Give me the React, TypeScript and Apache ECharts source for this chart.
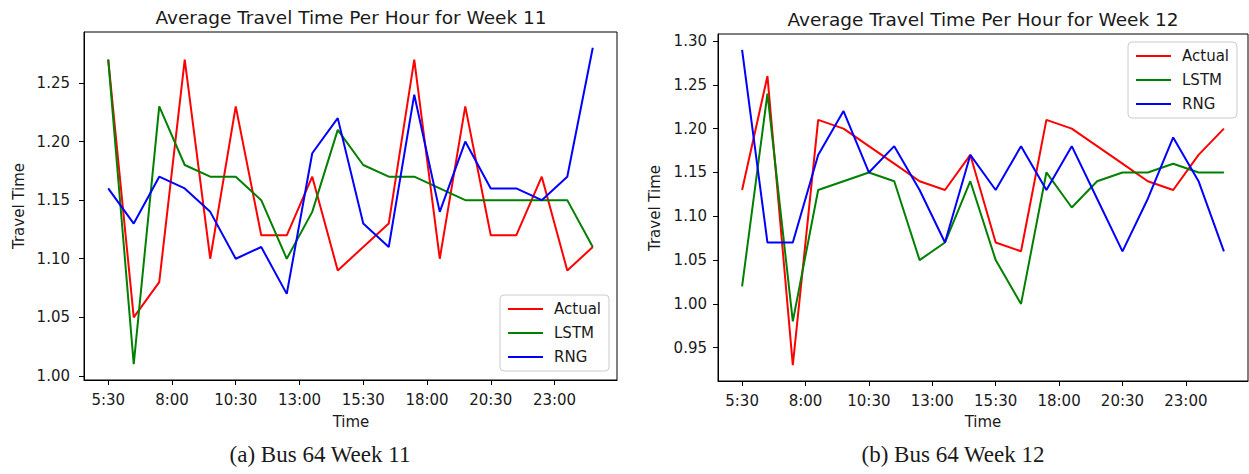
import React, { useEffect, useRef } from "react";
import * as echarts from "echarts";

const hours = [5.5, 6.5, 7.5, 8.5, 9.5, 10.5, 11.5, 12.5, 13.5, 14.5, 15.5, 16.5, 17.5, 18.5, 19.5, 20.5, 21.5, 22.5, 23.5, 24.5];
const tickValues = [5.5, 8, 10.5, 13, 15.5, 18, 20.5, 23];
const tickLabels = ["5:30", "8:00", "10:30", "13:00", "15:30", "18:00", "20:30", "23:00"];

const w11Ticks = [1.0, 1.05, 1.1, 1.15, 1.2, 1.25];
const w12Ticks = [0.95, 1.0, 1.05, 1.1, 1.15, 1.2, 1.25, 1.3];

const w11Actual = [1.27, 1.05, 1.08, 1.27, 1.10, 1.23, 1.12, 1.12, 1.17, 1.09, 1.11, 1.13, 1.27, 1.10, 1.23, 1.12, 1.12, 1.17, 1.09, 1.11];
const w11Lstm = [1.27, 1.01, 1.23, 1.18, 1.17, 1.17, 1.15, 1.10, 1.14, 1.21, 1.18, 1.17, 1.17, 1.16, 1.15, 1.15, 1.15, 1.15, 1.15, 1.11];
const w11Rng = [1.16, 1.13, 1.17, 1.16, 1.14, 1.10, 1.11, 1.07, 1.19, 1.22, 1.13, 1.11, 1.24, 1.14, 1.20, 1.16, 1.16, 1.15, 1.17, 1.28];

const w12Actual = [1.13, 1.26, 0.93, 1.21, 1.20, 1.18, 1.16, 1.14, 1.13, 1.17, 1.07, 1.06, 1.21, 1.20, 1.18, 1.16, 1.14, 1.13, 1.17, 1.20];
const w12Lstm = [1.02, 1.24, 0.98, 1.13, 1.14, 1.15, 1.14, 1.05, 1.07, 1.14, 1.05, 1.00, 1.15, 1.11, 1.14, 1.15, 1.15, 1.16, 1.15, 1.15];
const w12Rng = [1.29, 1.07, 1.07, 1.17, 1.22, 1.15, 1.18, 1.13, 1.07, 1.17, 1.13, 1.18, 1.13, 1.18, 1.12, 1.06, 1.12, 1.19, 1.14, 1.06];

const seriesNames = ["Actual", "LSTM", "RNG"];
const seriesColors = ["#ff0000", "#008000", "#0000ff"];

const FONT = "DejaVu Sans";
const TXT = "#1a1a1a";

function pairs(vals: number[]) {
  return hours.map((h, i) => [h, vals[i]]);
}

function xAxisCfg(gridIndex: number) {
  return {
    type: "value",
    gridIndex,
    min: 4.55,
    max: 25.45,
    splitLine: { show: false },
    axisLine: { show: true, lineStyle: { color: "#000", width: 1 } },
    axisTick: { show: true, length: 5, customValues: tickValues, lineStyle: { color: "#000" } },
    axisLabel: {
      customValues: tickValues,
      margin: 12,
      fontFamily: FONT,
      fontSize: 15,
      color: TXT,
      formatter: (v: number) => {
        const i = tickValues.findIndex((t) => Math.abs(t - v) < 1e-6);
        return i >= 0 ? tickLabels[i] : "";
      },
    },
  };
}

function yAxisCfg(gridIndex: number, min: number, max: number, ticks: number[], margin: number) {
  return {
    type: "value",
    gridIndex,
    min,
    max,
    splitLine: { show: false },
    axisLine: { show: true, lineStyle: { color: "#000", width: 1 } },
    axisTick: { show: true, length: 5, customValues: ticks, lineStyle: { color: "#000" } },
    axisLabel: {
      customValues: ticks,
      margin,
      fontFamily: FONT,
      fontSize: 15,
      color: TXT,
      formatter: (v: number) => v.toFixed(2),
    },
  };
}

function lineSeries(name: string, color: string, vals: number[], idx: number) {
  return {
    type: "line",
    name,
    xAxisIndex: idx,
    yAxisIndex: idx,
    data: pairs(vals),
    symbol: "none",
    color,
    lineStyle: { color, width: 2 },
  };
}

function legendCfg(left: number, top: number) {
  return {
    orient: "vertical",
    left,
    top,
    data: seriesNames,
    icon: "rect",
    itemWidth: 35,
    itemHeight: 2,
    itemGap: 8,
    padding: [6, 8, 6, 8],
    backgroundColor: "rgba(255,255,255,0.85)",
    borderColor: "#cccccc",
    borderWidth: 1,
    borderRadius: 4,
    selectedMode: false,
    textStyle: { fontFamily: FONT, fontSize: 15, color: TXT, lineHeight: 16, padding: [0, 0, 0, 6] },
  };
}

function txt(text: string, x: number, y: number, size: number, family: string, rotation = 0) {
  return {
    type: "text",
    x,
    y,
    rotation,
    style: {
      text,
      fontSize: size,
      fontFamily: family,
      fill: TXT,
      textAlign: "center",
      textVerticalAlign: "middle",
    },
  };
}

export default function App() {
  const ref = useRef<HTMLDivElement>(null);
  useEffect(() => {
    document.body.style.margin = "0";
    if (!ref.current) return;
    const chart = echarts.init(ref.current, null, { renderer: "svg" });
    const option = {
      animation: false,
      backgroundColor: "#ffffff",
      grid: [
        { left: 84, top: 32, width: 533, height: 348, show: true, borderColor: "#000", borderWidth: 1, backgroundColor: "transparent" },
        { left: 718, top: 34, width: 530, height: 347, show: true, borderColor: "#000", borderWidth: 1, backgroundColor: "transparent" },
      ],
      xAxis: [xAxisCfg(0), xAxisCfg(1)],
      yAxis: [
        yAxisCfg(0, 0.9965, 1.2935, w11Ticks, 14),
        yAxisCfg(1, 0.912, 1.308, w12Ticks, 11),
      ],
      legend: [legendCfg(500, 295), legendCfg(1128, 42)],
      series: [
        lineSeries("Actual", seriesColors[0], w11Actual, 0),
        lineSeries("LSTM", seriesColors[1], w11Lstm, 0),
        lineSeries("RNG", seriesColors[2], w11Rng, 0),
        lineSeries("Actual", seriesColors[0], w12Actual, 1),
        lineSeries("LSTM", seriesColors[1], w12Lstm, 1),
        lineSeries("RNG", seriesColors[2], w12Rng, 1),
      ],
      graphic: [
        txt("Average Travel Time Per Hour for Week 11", 351, 17, 18.5, FONT),
        txt("Average Travel Time Per Hour for Week 12", 983, 19, 18.5, FONT),
        txt("Time", 351, 422, 15, FONT),
        txt("Time", 983, 422, 15, FONT),
        txt("Travel Time", 19, 206, 15, FONT, Math.PI / 2),
        txt("Travel Time", 655, 208, 15, FONT, Math.PI / 2),
        txt("(a) Bus 64 Week 11", 320, 454, 23, "Liberation Serif"),
        txt("(b) Bus 64 Week 12", 953, 454, 23, "Liberation Serif"),
      ],
    };
    chart.setOption(option as any);
    return () => chart.dispose();
  }, []);
  return <div ref={ref} style={{ width: 1249, height: 474 }} />;
}
